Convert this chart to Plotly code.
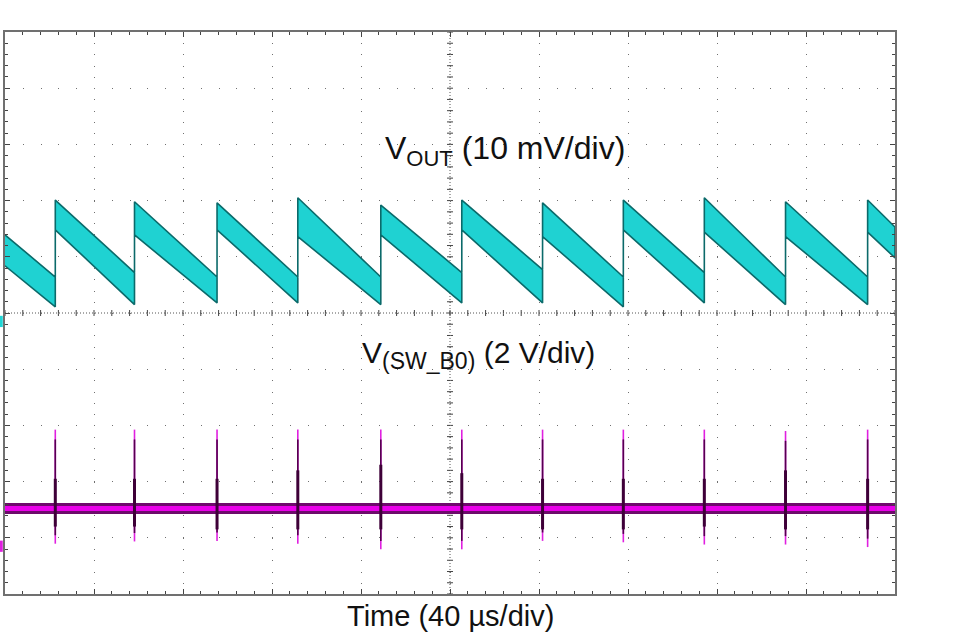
import plotly.graph_objects as go

# ---------------- scope settings ----------------
TIME_PER_DIV = 40          # us / div
N_XDIV = 10
N_YDIV = 10
VOUT_MV_PER_DIV = 10       # mV / div
VOUT_OFFSET_DIV = -0.15    # channel reference position (div)
SW_V_PER_DIV = 2           # V / div
SW_OFFSET_DIV = -4.15      # channel reference position (div)

# ---------------- data ----------------
# switching events (us)
rise_t = [22.6, 58.2, 95.3, 131.6, 168.9, 205.3, 241.6, 277.9, 314.3, 350.8, 387.7]

# VOUT ripple band (mV, relative to channel reference)
vout_start_hi, vout_start_lo = 15.4, 9.9
vout_valley_hi = [7.9, 8.7, 7.9, 7.9, 7.9, 8.7, 9.2, 7.9, 8.7, 7.9, 7.9]
vout_valley_lo = [2.6, 3.0, 3.3, 3.3, 3.0, 3.3, 3.3, 2.6, 3.3, 3.0, 3.0]
vout_peak_hi = [21.6, 21.3, 21.1, 22.0, 20.7, 21.6, 21.1, 21.6, 22.0, 21.3, 21.6]
vout_peak_lo = [16.3, 15.4, 16.3, 15.1, 15.4, 16.3, 15.1, 16.3, 15.9, 15.1, 15.9]
vout_end_hi, vout_end_lo = 16.8, 11.3

# SW node (V)
sw_base = 1.34
sw_spike_hi = [4.15, 4.15, 4.15, 4.15, 4.15, 4.15, 4.15, 4.15, 4.15, 4.10, 4.15]
sw_spike_lo = [0.09, 0.17, 0.19, 0.09, -0.11, -0.11, 0.19, 0.14, 0.06, 0.06, -0.03]
sw_ring_hi = [2.40, 2.40, 2.40, 2.70, 2.90, 2.60, 2.40, 2.40, 2.40, 2.70, 2.40]
sw_ring_lo = [0.70, 0.70, 0.60, 0.60, 0.60, 0.60, 0.60, 0.60, 0.70, 0.60, 0.60]

T_END = TIME_PER_DIV * N_XDIV


def vdiv(mv):
    return mv / VOUT_MV_PER_DIV + VOUT_OFFSET_DIV


def sdiv(v):
    return v / SW_V_PER_DIV + SW_OFFSET_DIV


# ---------------- build VOUT band polygon ----------------
ux, uy = [0], [vout_start_hi]
lx, ly = [0], [vout_start_lo]
for t, vh, vl, ph, pl in zip(rise_t, vout_valley_hi, vout_valley_lo, vout_peak_hi, vout_peak_lo):
    ux += [t, t]
    uy += [vh, ph]
    lx += [t, t]
    ly += [vl, pl]
ux.append(T_END); uy.append(vout_end_hi)
lx.append(T_END); ly.append(vout_end_lo)
poly_x = ux + lx[::-1]
poly_y = [vdiv(v) for v in uy + ly[::-1]]

fig = go.Figure()

fig.add_trace(go.Scatter(
    x=poly_x, y=poly_y, mode="lines", fill="toself",
    fillcolor="#1fd2d2", line=dict(color="#0b6a6a", width=1.6),
    hoverinfo="skip", showlegend=False))

# SW baseline band
fig.add_trace(go.Scatter(
    x=[0, T_END], y=[sdiv(sw_base)] * 2, mode="lines",
    line=dict(color="#6e0a6c", width=11), hoverinfo="skip", showlegend=False))
fig.add_trace(go.Scatter(
    x=[0, T_END], y=[sdiv(sw_base)] * 2, mode="lines",
    line=dict(color="#ea00ea", width=5), hoverinfo="skip", showlegend=False))

# spikes
sx, sy, dx, dy, rx, ry = [], [], [], [], [], []
for t, hi, lo, rh, rl in zip(rise_t, sw_spike_hi, sw_spike_lo, sw_ring_hi, sw_ring_lo):
    sx += [t, t, None]
    sy += [sdiv(hi), sdiv(lo), None]
    dx += [t, t, None]
    dy += [sdiv(hi - 0.35), sdiv(lo + 0.3), None]
    rx += [t, t, None]
    ry += [sdiv(rh), sdiv(rl), None]
fig.add_trace(go.Scatter(x=sx, y=sy, mode="lines", line=dict(color="#e020e0", width=1.6),
                         hoverinfo="skip", showlegend=False))
fig.add_trace(go.Scatter(x=dx, y=dy, mode="lines", line=dict(color="#55004f", width=1.6),
                         hoverinfo="skip", showlegend=False))
fig.add_trace(go.Scatter(x=rx, y=ry, mode="lines", line=dict(color="#3e0038", width=3),
                         hoverinfo="skip", showlegend=False))

# ---------------- graticule ----------------
x_div = T_END / N_XDIV
shapes = []
center_x = T_END / 2
shapes.append(dict(type="line", xref="x", yref="y", x0=0, x1=T_END, y0=0, y1=0,
                   line=dict(color="#555555", width=1, dash="1px,2px"), layer="below"))
shapes.append(dict(type="line", xref="x", yref="y", x0=center_x, x1=center_x, y0=-N_YDIV / 2, y1=N_YDIV / 2,
                   line=dict(color="#555555", width=1, dash="1px,2px"), layer="below"))
# cross ticks on centre lines
tx_len = 3 / 890 * T_END
ty_len = 3 / 56.2
for k in range(N_XDIV * 5 + 1):
    xv = k * x_div / 5
    shapes.append(dict(type="line", xref="x", yref="y", x0=xv, x1=xv, y0=-ty_len, y1=ty_len,
                       line=dict(color="#444444", width=1), layer="below"))
for k in range(N_YDIV * 5 + 1):
    yv = -N_YDIV / 2 + k / 5
    shapes.append(dict(type="line", xref="x", yref="y", x0=center_x - tx_len, x1=center_x + tx_len, y0=yv, y1=yv,
                       line=dict(color="#444444", width=1), layer="below"))
# channel reference markers
shapes.append(dict(type="rect", xref="paper", yref="y", x0=-0.0056, x1=-0.0025,
                   y0=VOUT_OFFSET_DIV - 0.1, y1=VOUT_OFFSET_DIV + 0.1,
                   fillcolor="#1fd6d6", line=dict(width=0)))
shapes.append(dict(type="rect", xref="paper", yref="y", x0=-0.0056, x1=-0.0025,
                   y0=SW_OFFSET_DIV - 0.1, y1=SW_OFFSET_DIV + 0.1,
                   fillcolor="#e020e0", line=dict(width=0)))

FONT = "Arial, Liberation Sans, sans-serif"
annotations = [
    dict(text="V<sub><span style=\"font-size:22px\">OUT</span></sub> (10 mV/div)",
         xref="x", yref="y", x=224.6, y=2.90, yanchor="middle",
         showarrow=False, font=dict(family=FONT, size=32, color="#111111")),
    dict(text="V<sub><span style=\"font-size:23px\">(SW_B0)</span></sub> (2 V/div)",
         xref="x", yref="y", x=212.7, y=-0.74, yanchor="middle",
         showarrow=False, font=dict(family=FONT, size=30, color="#111111")),
    dict(text="Time (40 µs/div)", xref="x", yref="paper", x=center_x, y=-0.039, yanchor="middle",
         showarrow=False, font=dict(family=FONT, size=29, color="#111111")),
]

axis_common = dict(showline=True, linecolor="#707070", linewidth=2, mirror="allticks",
                   ticks="inside", ticklen=5, tickcolor="#444444", tickwidth=1,
                   showticklabels=False, zeroline=False, showgrid=True,
                   gridcolor="#707070", gridwidth=1)

fig.update_layout(
    width=975, height=638,
    margin=dict(l=5, r=80, t=32, b=44),
    paper_bgcolor="white", plot_bgcolor="white",
    xaxis=dict(range=[0, T_END], dtick=x_div, tick0=0, griddash="1px,10.24px",
               minor=dict(dtick=x_div / 5, ticks="inside", ticklen=3, tickcolor="#444444", showgrid=False),
               **axis_common),
    yaxis=dict(range=[-N_YDIV / 2, N_YDIV / 2], dtick=1, tick0=0, griddash="1px,16.8px",
               minor=dict(dtick=0.2, ticks="inside", ticklen=3, tickcolor="#444444", showgrid=False),
               **axis_common),
    shapes=shapes,
    annotations=annotations,
    showlegend=False,
)

fig.write_html("out.html", config={"displayModeBar": False},
               post_script="document.body.style.margin='0';")
